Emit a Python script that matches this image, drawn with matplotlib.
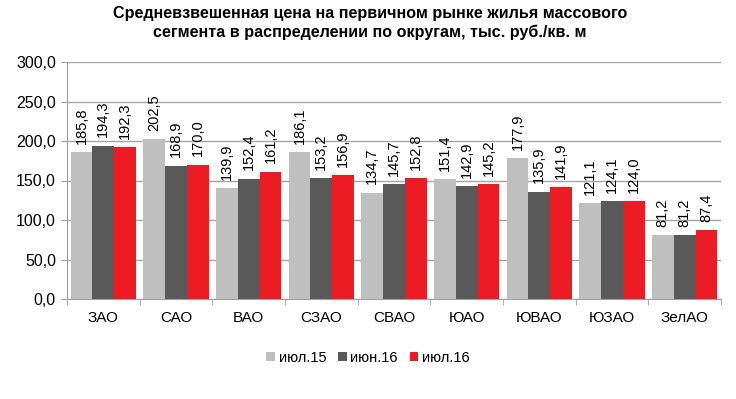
import matplotlib
matplotlib.use('Agg')
from matplotlib import pyplot as plt
import numpy as np

plt.rcParams['font.family'] = ['Liberation Sans', 'DejaVu Sans']

districts = ['ЗАО', 'САО', 'ВАО', 'СЗАО', 'СВАО', 'ЮАО', 'ЮВАО', 'ЮЗАО', 'ЗелАО']
jul15 = [185.8, 202.5, 139.9, 186.1, 134.7, 151.4, 177.9, 121.1, 81.2]
jun16 = [194.3, 168.9, 152.4, 153.2, 145.7, 142.9, 135.9, 124.1, 81.2]
jul16 = [192.3, 170.0, 161.2, 156.9, 152.8, 145.2, 141.9, 124.0, 87.4]
series_names = ['июл.15', 'июн.16', 'июл.16']
colors = ['#BFBFBF', '#595959', '#ED1C24']

fig = plt.figure(figsize=(7.36, 3.99), dpi=100)
ax = fig.add_axes([67/736, 1 - 299/399, (721-67)/736, (299-62)/399])

x = np.arange(len(districts))
w = 0.3
for i, (vals, name, c) in enumerate(zip([jul15, jun16, jul16], series_names, colors)):
    pos = x + (i - 1) * w
    ax.bar(pos, vals, width=w, color=c, label=name, zorder=3)
    for p, v in zip(pos, vals):
        ax.annotate(('%.1f' % v).replace('.', ','), (p, v), xytext=(0, 6),
                    textcoords='offset points', rotation=90,
                    ha='center', va='bottom', fontsize=10.5, zorder=4)

ax.set_xlim(-0.5, len(districts) - 0.5)
ax.set_ylim(0, 300)
ax.set_yticks(np.arange(0, 301, 50))
ax.set_yticklabels([('%.1f' % t).replace('.', ',') for t in np.arange(0, 301, 50)], fontsize=11.5)
ax.set_xticks(x)
ax.set_xticklabels(districts, fontsize=11)
ax.set_xticks(np.arange(-0.5, len(districts), 1), minor=True)
ax.tick_params(axis='x', which='major', length=0, pad=9)
ax.tick_params(axis='x', which='minor', length=4, color='#A0A0A0')
ax.tick_params(axis='y', length=4, color='#A0A0A0', pad=4)
ax.grid(axis='y', color='#A6A6A6', linewidth=1, zorder=0)
for s in ['top', 'right']:
    ax.spines[s].set_visible(False)
for s in ['left', 'bottom']:
    ax.spines[s].set_color('#A0A0A0')

fig.text(0.503, 0.985, 'Средневзвешенная цена на первичном рынке жилья массового\n'
         'сегмента в распределении по округам, тыс. руб./кв. м',
         ha='center', va='top', fontsize=11.6, fontweight='bold', linespacing=1.3)

fig.legend(loc='center', bbox_to_anchor=(0.5, 1 - 358/399), ncol=3, frameon=False,
           fontsize=10.5, handlelength=0.6, handleheight=0.6, handletextpad=0.25,
           columnspacing=0.8)

fig.savefig('out.png', dpi=100)
